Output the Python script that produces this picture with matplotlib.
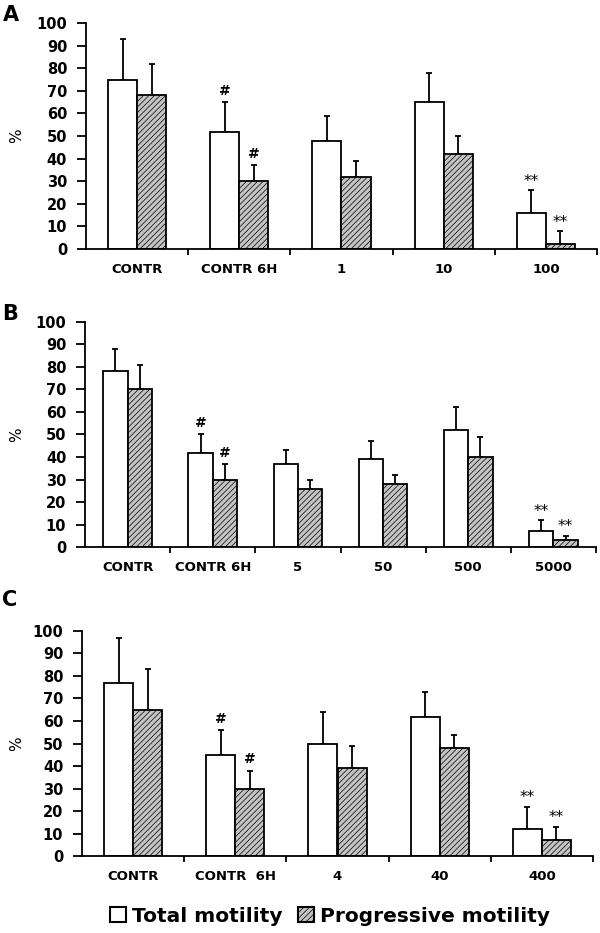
import numpy as np
import matplotlib
matplotlib.use('Agg')
import matplotlib.pyplot as plt
from matplotlib.patches import Patch

plt.rcParams['font.family'] = ['DejaVu Sans']
plt.rcParams['hatch.linewidth'] = 0.5

# panel A
labels_a = ['CONTR', 'CONTR 6H', '1', '10', '100']
total_a = [75, 52, 48, 65, 16]
total_a_sd = [18, 13, 11, 13, 10]
prog_a = [68, 30, 32, 42, 2]
prog_a_sd = [14, 7, 7, 8, 6]

# panel B
labels_b = ['CONTR', 'CONTR 6H', '5', '50', '500', '5000']
total_b = [78, 42, 37, 39, 52, 7]
total_b_sd = [10, 8, 6, 8, 10, 5]
prog_b = [70, 30, 26, 28, 40, 3]
prog_b_sd = [11, 7, 4, 4, 9, 2]

# panel C
labels_c = ['CONTR', 'CONTR  6H', '4', '40', '400']
total_c = [77, 45, 50, 62, 12]
total_c_sd = [20, 11, 14, 11, 10]
prog_c = [65, 30, 39, 48, 7]
prog_c_sd = [18, 8, 10, 6, 6]

# significance marks: (category index, series) -> text
marks_a = {(1, 0): '#', (1, 1): '#', (4, 0): '**', (4, 1): '**'}
marks_b = {(1, 0): '#', (1, 1): '#', (5, 0): '**', (5, 1): '**'}
marks_c = {(1, 0): '#', (1, 1): '#', (4, 0): '**', (4, 1): '**'}

HATCH_FC = '#c4c4c4'
W = 0.285

fig = plt.figure(figsize=(6, 9.33), dpi=100)


def panel(rect, labels, total, total_sd, prog, prog_sd, marks, letter, letter_y):
    ax = fig.add_axes(rect)
    x = np.arange(len(labels))
    ax.bar(x - W / 2, total, W, color='white', edgecolor='black', linewidth=1.3, zorder=2)
    ax.bar(x + W / 2, prog, W, color=HATCH_FC, edgecolor='black', linewidth=1.3,
           hatch='//////', zorder=2)
    for off, m, s in [(-W / 2, total, total_sd), (W / 2, prog, prog_sd)]:
        ax.errorbar(x + off, m, yerr=[np.zeros(len(s)), s], fmt='none', ecolor='black',
                    elinewidth=1.3, capsize=2.2, capthick=1.3, zorder=1)
    for (i, k), txt in marks.items():
        m = total if k == 0 else prog
        s = total_sd if k == 0 else prog_sd
        xp = x[i] + (-W / 2 if k == 0 else W / 2)
        if txt == '#':
            ax.annotate(txt, (xp, m[i] + s[i]), xytext=(0, 3), textcoords='offset points',
                        ha='center', va='bottom', fontsize=10, fontweight='bold')
        else:
            ax.annotate(txt, (xp, m[i] + s[i]), xytext=(0, 1), textcoords='offset points',
                        ha='center', va='bottom', fontsize=11)
    ax.set_xlim(-0.5, len(labels) - 0.5)
    ax.set_ylim(0, 100)
    ax.set_yticks(np.arange(0, 101, 10))
    ax.set_xticks(x)
    ax.set_xticklabels(labels, fontsize=9.5, fontweight='bold')
    ax.set_xticks(np.arange(0.5, len(labels), 1), minor=True)
    ax.tick_params(axis='x', which='major', length=0, pad=10)
    ax.tick_params(axis='x', which='minor', length=4, width=1.3, direction='out')
    ax.tick_params(axis='y', length=6.5, width=1.3, pad=7, labelsize=10.5)
    for t in ax.get_yticklabels():
        t.set_fontweight('bold')
    for sp in ['top', 'right']:
        ax.spines[sp].set_visible(False)
    for sp in ['left', 'bottom']:
        ax.spines[sp].set_linewidth(1.3)
    yc = rect[1] + rect[3] / 2
    fig.text(17 / 600, yc, '%', rotation=90, ha='center', va='center', fontsize=11)
    fig.text(0.004, letter_y, letter, fontsize=15, fontweight='bold', va='center')
    return ax


panel([0.1433, 0.7331, 0.8517, 0.2422], labels_a, total_a, total_a_sd, prog_a, prog_a_sd,
      marks_a, 'A', 1 - 15 / 933)
panel([0.1417, 0.4137, 0.8516, 0.2412], labels_b, total_b, total_b_sd, prog_b, prog_b_sd,
      marks_b, 'B', 1 - 314 / 933)
panel([0.1367, 0.0825, 0.8516, 0.2412], labels_c, total_c, total_c_sd, prog_c, prog_c_sd,
      marks_c, 'C', 1 - 600 / 933)

handles = [Patch(facecolor='white', edgecolor='black', linewidth=1.5, label='Total motility'),
           Patch(facecolor=HATCH_FC, edgecolor='black', linewidth=1.5, hatch='//////',
                 label='Progressive motility')]
fig.legend(handles=handles, loc='center', bbox_to_anchor=(0.55, 1 - 916 / 933), ncol=2,
           frameon=False, prop={'weight': 'bold', 'size': 14.5}, handlelength=0.8,
           handleheight=0.8, handletextpad=0.3, columnspacing=0.8)

fig.savefig('out.png', dpi=100)
